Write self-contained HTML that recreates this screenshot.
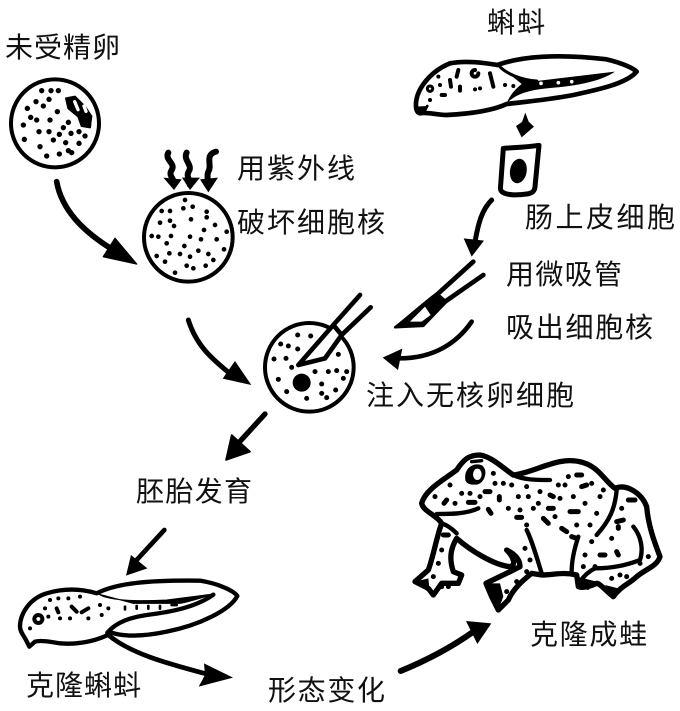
<!DOCTYPE html>
<html><head><meta charset="utf-8"><style>
html,body{margin:0;padding:0;background:#fff}
svg{display:block;filter:blur(.35px)}
text{font-family:"Liberation Sans","Noto Sans CJK SC",sans-serif;font-size:28px;fill:#111}
</style></head><body>
<svg width="680" height="711" viewBox="0 0 680 711" xmlns="http://www.w3.org/2000/svg">
<rect width="680" height="711" fill="#fff"/>
<text x="5" y="57" textLength="115">未受精卵</text>
<text x="487" y="32" textLength="58">蝌蚪</text>
<text x="237" y="178" textLength="118">用紫外线</text>
<text x="237" y="232" textLength="148">破坏细胞核</text>
<text x="525" y="227" textLength="150">肠上皮细胞</text>
<text x="506" y="284" textLength="116">用微吸管</text>
<text x="506" y="337" textLength="147">吸出细胞核</text>
<text x="366" y="405" textLength="208">注入无核卵细胞</text>
<text x="136" y="501" textLength="116">胚胎发育</text>
<text x="26" y="695" textLength="115">克隆蝌蚪</text>
<text x="268" y="700" textLength="117">形态变化</text>
<text x="530" y="644" textLength="117">克隆成蛙</text>

<!-- Upper-left region -->
<g transform="scale(.33333)" fill="none" stroke="#000" stroke-linecap="round" stroke-linejoin="round">
<circle cx="165" cy="370" r="132" fill="#fff" stroke-width="12"/>
<path d="M198 295L225 290L255 320L275 350L270 382L245 378L235 350L205 325Z" fill="#000" stroke="#000" stroke-width="6"/>
<path d="M224 305l10 24M252 318l6 16M226 270l12 12M262 300l10 14M282 350l-3 22" stroke="#fff" stroke-width="10"/>
<path d="M125 272h.1M153 272h.1M175 272h.1M108 305h.1M147 298h.1M130 318h.1M82 325h.1M172 335h.1M92 352h.1M110 360h.1M150 360h.1M70 375h.1M117 395h.1M147 395h.1M205 367h.1M190 383h.1M178 403h.1M213 400h.1M237 395h.1M255 408h.1M160 420h.1M73 418h.1M120 440h.1M197 428h.1M237 430h.1M140 468h.1M178 462h.1M205 452h.1M215 458h.1" stroke-width="16"/>
<circle cx="565" cy="712" r="133" fill="#fff" stroke-width="12"/>
<path d="M555 600h.1M578 620h.1M550 625h.1M485 633h.1M510 633h.1M620 635h.1M620 652h.1M573 658h.1M480 668h.1M510 662h.1M522 678h.1M645 675h.1M612 690h.1M455 708h.1M475 710h.1M513 708h.1M570 710h.1M603 718h.1M650 718h.1M680 695h.1M500 730h.1M553 738h.1M672 748h.1M595 752h.1M508 760h.1M470 768h.1M540 762h.1M570 770h.1M625 762h.1M640 780h.1M495 785h.1M560 797h.1M580 805h.1M617 797h.1M525 818h.1" stroke-width="14"/>
<path d="M170 545C185 630 250 695 340 750" stroke-width="17"/>
<path d="M345 715L410 792L310 770Z" fill="#000" stroke="#000" stroke-width="4"/>
<path d="M505 458C492 480 530 490 514 512C505 527 522 535 522 550M560 458C548 480 580 495 566 515C557 530 572 540 570 555M648 455C612 465 638 495 625 515C618 530 627 545 625 555" stroke-width="18"/>
<path d="M490 533L545 538L522 570ZM546 533L600 533L570 570ZM600 538L654 533L625 577Z" fill="#000" stroke="none"/>
</g>

<!-- Top tadpole -->
<g transform="translate(340,0) scale(.33333)" stroke="#000" stroke-linecap="round" stroke-linejoin="round">
<path d="M228 320C225 270 270 215 330 190C380 180 440 190 472 195C540 170 650 160 800 178C850 190 880 205 890 215C860 250 780 268 700 285C620 300 560 305 500 312C450 335 380 342 320 345C290 345 260 335 240 340C232 338 228 330 228 320Z" fill="#fff" stroke-width="14"/>
<path d="M475 195C500 225 550 240 590 243L825 215C790 240 720 258 620 265C570 270 530 280 500 310C510 285 525 268 545 252Z" fill="#000" stroke="none"/>
<path d="M475 195C500 225 550 240 590 243" fill="none" stroke-width="9"/>
<path d="M603 250h.1M655 248h.1M695 245h.1" stroke="#fff" stroke-width="11"/>
<path d="M295 230h.1M330 240l3 20M355 210l-5 20M405 210a10 10 0 1 0 10 10M450 220l10 40M360 260v12M405 268h.1M420 265h.1M305 285h10M495 255h.1M520 258h.1M300 255h.1M270 300h.1" fill="none" stroke-width="12"/>
<path d="M270 258a8 8 0 1 0 .1 0" fill="#fff" stroke-width="9"/>
<path d="M228 320L250 340L262 318" fill="#000" stroke-width="8"/>
<!-- small arrow -->
<path d="M556 338L566 365L582 380L545 412L528 378L546 366Z" fill="#000" stroke="none"/>
<!-- cell -->
<path d="M490 445C530 442 560 442 597 436L585 560C584 575 575 580 560 582C530 586 505 586 490 578C482 574 480 568 482 555Z" fill="#fff" stroke-width="15"/>
<ellipse cx="535" cy="513" rx="25" ry="37" fill="#000" stroke="none" transform="rotate(10 535 513)"/>
<!-- arrow -->
<path d="M455 600C425 630 415 670 405 725" fill="none" stroke-width="15"/>
<path d="M371 715L432 722L395 770Z" fill="#000" stroke="none"/>
</g>

<!-- Middle -->
<g transform="translate(160,250) scale(.33333)" stroke="#000" stroke-linecap="round" stroke-linejoin="round" fill="none">
<circle cx="448" cy="352" r="133" fill="#fff" stroke-width="12"/>
<path d="M413 255h.1M452 258h.1M362 282h.1M385 288h.1M413 297h.1M342 327h.1M378 325h.1M395 352h.1M465 365h.1M505 365h.1M530 362h.1M560 365h.1M535 313h.1M550 385h.1M355 388h.1M485 402h.1M380 425h.1M527 420h.1M485 430h.1M500 443h.1M440 445h.1" stroke-width="15"/>
<circle cx="425" cy="398" r="27" fill="#000" stroke="none"/>
<path d="M600 135L520 225L410 345L495 325L545 255L632 172Z" fill="#fff" stroke="none"/>
<path d="M600 135L520 225L415 345L495 325L545 255L632 172M520 225L545 255" stroke-width="14"/>
<path d="M705 232C740 205 790 160 830 130L860 155L790 228Z" fill="#000" stroke="#000" stroke-width="7"/>
<path d="M750 215L795 170L812 195L785 215Z" fill="#fff" stroke="none"/>
<path d="M940 35L835 130M970 75L855 155" stroke-width="14"/>
<path d="M935 215C890 280 820 325 720 325" stroke-width="14"/>
<path d="M668 323L727 296L714 360Z" fill="#000" stroke="none"/>
<path d="M85 210C110 290 160 330 215 375" stroke-width="15"/>
<path d="M225 333L274 405L188 386Z" fill="#000" stroke="none"/>
</g>

<!-- Down arrow -->
<g transform="translate(130,400) scale(.33333)" stroke="#000" stroke-linecap="round" stroke-linejoin="round" fill="none">
<path d="M405 42L320 135" stroke-width="16"/>
<path d="M305 105L288 180L360 155Z" fill="#000" stroke="#000" stroke-width="5"/>
</g>

<!-- Frog -->
<g transform="translate(400,440) scale(.33333)" stroke="#000" stroke-linecap="round" stroke-linejoin="round" fill="none">
<path d="M65 190C75 150 130 120 170 90C190 60 205 45 240 45C275 50 310 85 340 105C385 100 430 75 480 65C530 55 570 70 595 95C620 120 630 135 645 145C680 130 725 160 740 200C745 260 765 310 780 350C770 380 740 385 710 410C690 430 660 440 640 470C620 455 600 430 590 430C570 440 545 445 535 440L530 405C490 395 460 405 425 405L395 400C370 420 340 445 325 480L295 510L275 470L258 430L330 395L360 380C360 355 340 340 320 330C340 350 350 375 330 380C280 375 210 330 170 295C155 320 145 350 160 395L185 405L175 430L125 430L100 465L85 445L45 425L85 390C100 350 110 290 125 250C110 225 70 215 65 190Z" fill="#fff" stroke-width="16"/>
<path d="M110 222C150 222 200 222 235 205M125 250C140 255 155 265 170 280M340 105C370 120 410 120 450 120M380 270C395 300 410 350 425 400M535 290C525 320 515 360 515 395M650 150C645 205 630 240 590 285M700 260C725 290 730 330 720 360C680 375 640 385 585 385C565 395 550 410 540 425" stroke-width="13"/>
<path d="M200 120C195 85 225 70 245 80C260 95 250 125 230 130C215 130 205 130 200 120Z" fill="#000" stroke="#000" stroke-width="8"/>
<ellipse cx="232" cy="103" rx="13" ry="17" fill="#fff" stroke="none"/>
<path d="M215 65L245 62" stroke-width="10"/>
<path d="M260 430L300 430L310 470L295 510L275 470ZM530 410L590 425L565 450L545 445ZM615 435L655 445L640 475ZM45 425L85 415L90 460Z" fill="#000" stroke="none"/>
<path d="M150 135h.1M105 170h.1M140 180l-8 10M165 190h.1M185 160h.1M210 160h.1M205 187h20M255 155h15M298 170v10M240 170h.1M265 208l8 12M280 100h.1M285 130h.1M310 130h.1M335 135h.1M355 170h.1M380 140h.1M385 170h.1M420 155h.1M450 165l10 5M480 175h.1M530 105h15M475 135h.1M495 135h.1M505 110h.1M545 140l15 -5M575 130h.1M520 170h.1M555 190h.1M600 170h.1M610 150h.1M325 205h.1M360 210h.1M350 232h15M415 190h.1M400 205h.1M445 205h15M430 235l15 15M465 230h.1M510 215h25M590 220h.1M380 255h.1M485 265l15 10M530 255h.1M570 255h.1M515 290l15 5M575 305h.1M555 345h.1M685 180h20M665 205h.1M650 245l20 -5M655 260v5M635 295h.1M600 345h15M650 335l5 10M375 325h.1M390 360h.1M380 395h.1M550 380h.1M585 380h.1M745 350h.1M720 370h.1M130 285h15M125 330h.1M115 370h.1M100 410h.1M125 440h.1M145 440h.1M320 455h.1M350 425h.1M660 405h.1M680 410h.1M635 415h.1" stroke-width="15"/>
</g>

<!-- Clone tadpole -->
<g transform="translate(0,520) scale(.33333)" stroke="#000" stroke-linecap="round" stroke-linejoin="round">
<path d="M493 30L410 120" fill="none" stroke-width="14"/>
<path d="M393 105L378 167L442 145Z" fill="#000" stroke="none"/>
<path d="M60 320C60 280 90 235 140 220C190 205 240 205 290 220C350 190 440 180 600 182C650 190 700 210 712 228C690 270 600 315 500 335C430 350 370 350 335 338C300 360 240 375 180 370C150 365 120 360 105 365L88 380L78 360C70 345 60 335 60 320Z" fill="#fff" stroke-width="13"/>
<path d="M295 222C320 240 390 245 500 240L640 222C600 235 570 245 540 250L400 250Z" fill="#000" stroke="#000" stroke-width="3"/>
<path d="M640 224C590 260 520 275 440 285C390 293 350 305 322 338" fill="none" stroke-width="13"/>
<path d="M375 260v8M410 258v8M445 258v8M480 258v8M515 255h15" stroke="#000" stroke-width="8"/>
<path d="M115 285a12 12 0 1 0 .1 0M150 240h.1M175 235h.1M205 235h.1M240 230h.1M170 265l5 12M135 265h.1M215 260l15 15M265 265l-20 12M180 295h.1M210 295h.1M265 295h.1M300 255h.1M325 265h.1M305 285h.1M145 290h.1M90 325h.1" fill="none" stroke-width="12"/>
<path d="M325 345C390 400 500 430 620 462" fill="none" stroke-width="14"/>
<path d="M612 430L699 473L596 500L615 465Z" fill="#000" stroke="none"/>
</g>

<!-- Arrow to frog -->
<g transform="translate(380,600) scale(.33333)" stroke="#000" stroke-linecap="round" stroke-linejoin="round">
<path d="M62 213C130 185 210 145 280 95" fill="none" stroke-width="18"/>
<path d="M258 63L334 70L292 132Z" fill="#000" stroke="none"/>
</g>
</svg>
</body></html>
